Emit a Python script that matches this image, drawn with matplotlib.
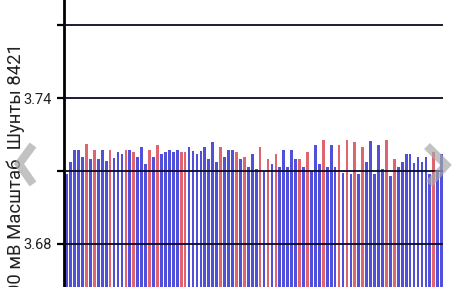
"""
plot.py

Purpose:
    Redraw the shunt voltage bar strip (Шунты 8421) as a static PNG.

Outputs:
    out.png
"""

from __future__ import annotations

import matplotlib

matplotlib.use("Agg")
import matplotlib.pyplot as plt
from matplotlib.lines import Line2D


# bar values (V), left to right
VALUES = [
    3.7086, 3.7138, 3.7186, 3.7186, 3.7159, 3.7209, 3.7148, 3.7186, 3.7148, 3.7186,
    3.7143, 3.7186, 3.7153, 3.7178, 3.7168, 3.7186, 3.7186, 3.7177, 3.7159, 3.7197,
    3.7128, 3.7186, 3.7159, 3.7208, 3.7168, 3.7177, 3.7186, 3.7177, 3.7186, 3.7177,
    3.7177, 3.7197, 3.7182, 3.7168, 3.7183, 3.7197, 3.7148, 3.7219, 3.7138, 3.7197,
    3.7159, 3.7186, 3.7186, 3.7177, 3.7148, 3.7159, 3.7118, 3.7168, 3.7110, 3.7197,
    3.7100, 3.7148, 3.7128, 3.7168, 3.7118, 3.7186, 3.7118, 3.7186, 3.7148, 3.7148,
    3.7118, 3.7177, 3.7098, 3.7207, 3.7128, 3.7227, 3.7118, 3.7207, 3.7118, 3.7207,
    3.7091, 3.7227, 3.7088, 3.7219, 3.7088, 3.7199, 3.7138, 3.7223, 3.7088, 3.7207,
    3.7107, 3.7227, 3.7079, 3.7148, 3.7118, 3.7138, 3.7168, 3.7168, 3.7133, 3.7159,
    3.7138, 3.7159, 3.7088, 3.7178, 3.7100, 3.7168,
]

# "b" = normal bar, "r" = highlighted bar
KINDS = list(
    "bbbbbrbrbb"
    "brbbbrbrbb"
    "brbrbbbbbr"
    "rbbbbbbbbr"
    "bbbrbrbbbr"
    "brbrbbbbbr"
    "brbbbrbbbr"
    "brbrbrbbbb"
    "brbrbbbbbb"
    "bbbrbb"
)

LABELED_TICKS = [3.68, 3.74]
MINOR_TICKS = [3.71, 3.77]
GRID_LEVELS = [3.68, 3.71, 3.74, 3.77]
Y_LIMITS = (3.6623, 3.7803)
BAR_BASE = 3.60

Y_LABEL = "00 мВ Масштаб  Шунты 8421"

COLORS = {"b": "#5050da", "r": "#df6470"}
FONT = ["Roboto", "DejaVu Sans"]


def add_chevron(fig, points: list[tuple[float, float]]) -> None:
    """Draw a grey pager chevron given in pixel coords from the top-left."""
    w, h = fig.get_size_inches() * fig.dpi
    xs = [x / w for x, _ in points]
    ys = [1 - y / h for _, y in points]
    fig.add_artist(
        Line2D(xs, ys, transform=fig.transFigure, color="#a8a8a8", alpha=0.7,
               lw=6, solid_joinstyle="miter", solid_capstyle="butt", zorder=10)
    )


def main() -> None:
    plt.rcParams["font.family"] = FONT

    fig = plt.figure(figsize=(4.56, 2.87), dpi=100)
    ax = fig.add_axes([64 / 456, 0.0, (443 - 64) / 456, 1.0])

    x = list(range(len(VALUES)))
    heights = [v - BAR_BASE for v in VALUES]
    ax.bar(x, heights, bottom=BAR_BASE, width=0.7,
           color=[COLORS[k] for k in KINDS], zorder=1)

    for level in GRID_LEVELS:
        ax.axhline(level, color="#0a0a28", lw=1.3, zorder=3)

    ax.set_xlim(-0.68, len(VALUES) - 1 + 0.33)
    ax.set_ylim(*Y_LIMITS)

    ax.set_yticks(LABELED_TICKS)
    ax.set_yticklabels([f"{t:.2f}" for t in LABELED_TICKS])
    ax.set_yticks(MINOR_TICKS, minor=True)
    ax.tick_params(axis="y", which="both", direction="out", length=5, width=1.6,
                   colors="black", labelsize=10.5, pad=3.5)
    ax.tick_params(axis="y", labelcolor="#222222")
    ax.set_xticks([])

    for side in ("top", "right", "bottom"):
        ax.spines[side].set_visible(False)
    ax.spines["left"].set_linewidth(2)

    fig.text(21 / 456, 1 - 43 / 287, Y_LABEL, rotation=90, rotation_mode="anchor",
             ha="right", va="baseline", fontsize=13.3, color="#222222")

    add_chevron(fig, [(33, 145), (19, 164), (33, 184)])
    add_chevron(fig, [(427, 146), (446, 165), (429, 184)])

    fig.savefig("out.png", dpi=100)
    plt.close(fig)


if __name__ == "__main__":
    main()
